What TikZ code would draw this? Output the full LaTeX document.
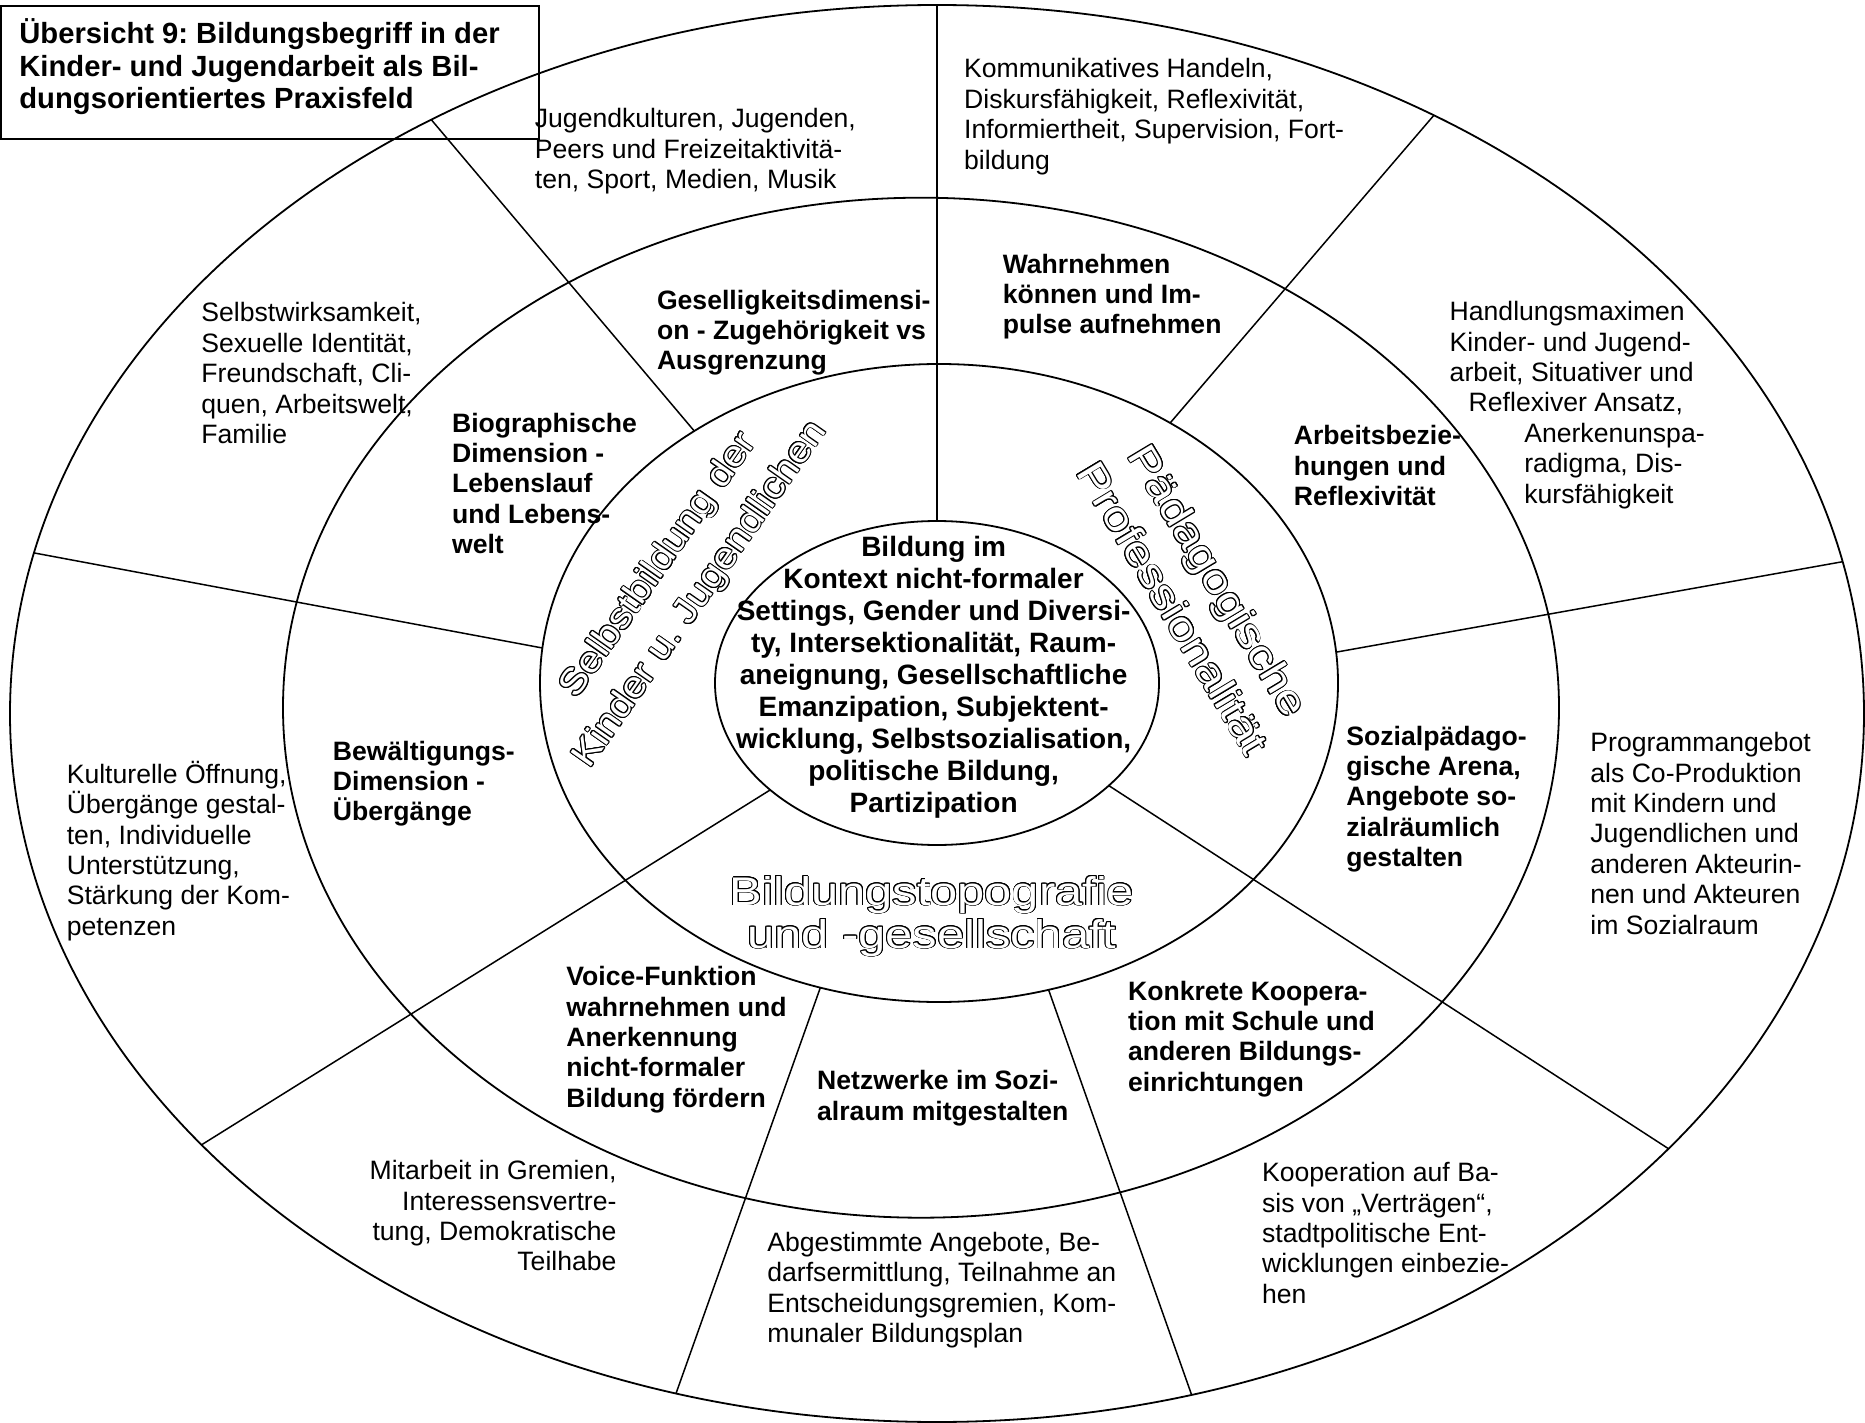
\documentclass[tikz,border=0pt]{standalone}
\usepackage{fontspec}
\setmainfont{Liberation Sans}
\newfontfamily\artwide[FakeStretch=1.22]{Liberation Sans}
\newfontfamily\artnarrow[FakeStretch=1.13]{Liberation Sans}
\usetikzlibrary{calc}

% hollow lettering: black halo copies under a white copy
\newcommand\halocopy[3]{\rlap{\hspace*{#1}\raisebox{#2}{#3}}}
\newcommand\hollowtext[1]{{\color{black}%
  \halocopy{0.48pt}{0pt}{#1}\halocopy{0.44pt}{0.18pt}{#1}%
  \halocopy{0.34pt}{0.34pt}{#1}\halocopy{0.18pt}{0.44pt}{#1}%
  \halocopy{0pt}{0.48pt}{#1}\halocopy{-0.18pt}{0.44pt}{#1}%
  \halocopy{-0.34pt}{0.34pt}{#1}\halocopy{-0.44pt}{0.18pt}{#1}%
  \halocopy{-0.48pt}{0pt}{#1}\halocopy{-0.44pt}{-0.18pt}{#1}%
  \halocopy{-0.34pt}{-0.34pt}{#1}\halocopy{-0.18pt}{-0.44pt}{#1}%
  \halocopy{0pt}{-0.48pt}{#1}\halocopy{0.18pt}{-0.44pt}{#1}%
  \halocopy{0.34pt}{-0.34pt}{#1}\halocopy{0.44pt}{-0.18pt}{#1}}%
  \textcolor{white}{#1}}

% text blocks are placed by the baseline of their last line
\tikzset{
  ring/.style={draw=black, line width=0.9pt},
  spoke/.style={draw=black, line width=0.75pt},
  plain/.style={anchor=base west, inner sep=0pt, align=left,
    font=\fontsize{13.3}{15.2}\selectfont},
  heavy/.style={anchor=base west, inner sep=0pt, align=left,
    font=\fontsize{13.3}{15.2}\selectfont\bfseries},
  hub/.style={anchor=base, inner sep=0pt, align=center,
    font=\fontsize{14}{16}\selectfont\bfseries},
  headline/.style={anchor=base west, inner sep=0pt, align=left,
    font=\fontsize{14.6}{16.3}\selectfont\bfseries},
  art/.style={inner sep=0pt, align=center}
}

\begin{document}
\frenchspacing
\begin{tikzpicture}[x=0.5pt,y=-0.5pt]
\useasboundingbox (0,0) rectangle (1865,1423);
\fill[white] (0,0) rectangle (1865,1423);

% centres of the four rings
\coordinate (O) at (937,713.5);
\coordinate (M) at (921,707.7);
\coordinate (I) at (939,683);
\coordinate (C) at (937,683);

\draw[ring] (O) ellipse [x radius=927, y radius=708.5];
\draw[ring] (M) ellipse [x radius=638, y radius=510];
\draw[ring] (I) ellipse [x radius=399, y radius=319];
\draw[ring] (C) ellipse [x radius=222, y radius=162];

% spokes dividing the rings
\coordinate (a1) at ($(C)+(-90:222 and 162)$);
\coordinate (a2) at ($(O)+(-90:927 and 708.5)$);
\coordinate (b1) at ($(I)+(-127.83:399 and 319)$);
\coordinate (b2) at ($(O)+(-123.06:927 and 708.5)$);
\coordinate (c1) at ($(I)+(-54.6:399 and 319)$);
\coordinate (c2) at ($(O)+(-57.59:927 and 708.5)$);
\coordinate (d1) at ($(I)+(-173.7:399 and 319)$);
\coordinate (d2) at ($(O)+(-166.9:927 and 708.5)$);
\coordinate (e1) at ($(I)+(-5.55:399 and 319)$);
\coordinate (e2) at ($(O)+(-12.37:927 and 708.5)$);
\coordinate (f1) at ($(C)+(138.7:222 and 162)$);
\coordinate (f2) at ($(O)+(142.5:927 and 708.5)$);
\coordinate (g1) at ($(C)+(39.3:222 and 162)$);
\coordinate (g2) at ($(O)+(37.9:927 and 708.5)$);
\coordinate (h1) at ($(I)+(107.3:399 and 319)$);
\coordinate (h2) at ($(O)+(106.35:927 and 708.5)$);
\coordinate (i1) at ($(I)+(74.06:399 and 319)$);
\coordinate (i2) at ($(O)+(74.06:927 and 708.5)$);
\foreach \s in {a,b,c,d,e,f,g,h,i} \draw[spoke] (\s1) -- (\s2);

% title
\draw[line width=1pt] (1,6) rectangle (539,139);
\node[headline] (title) at (19,109) {Übersicht 9: Bildungsbegriff in der\\Kinder- und Jugendarbeit als Bil-\\dungsorientiertes Praxisfeld};

% outer ring
\node[plain] (jugend) at (534.5,188.8) {Jugendkulturen, Jugenden,\\Peers und Freizeitaktivitä-\\ten, Sport, Medien, Musik};
\node[plain] (kommunikation) at (963.8,169.2) {Kommunikatives Handeln,\\Diskursfähigkeit, Reflexivität,\\Informiertheit, Supervision, Fort-\\bildung};
\node[plain] (selbstwirk) at (201,443.6) {Selbstwirksamkeit,\\Sexuelle Identität,\\Freundschaft, Cli-\\quen, Arbeitswelt,\\Familie};
\node[plain] (handlung) at (1449.3,503.1) {Handlungsmaximen\\Kinder- und Jugend-\\arbeit, Situativer und\\\hspace*{9.5pt}Reflexiver Ansatz,\\\hspace*{37.3pt}Anerkenunspa-\\\hspace*{37.3pt}radigma, Dis-\\\hspace*{37.3pt}kursfähigkeit};
\node[plain] (kultur) at (66.4,935.3) {Kulturelle Öffnung,\\Übergänge gestal-\\ten, Individuelle\\Unterstützung,\\Stärkung der Kom-\\petenzen};
\node[plain] (programm) at (1590,934.1) {Programmangebot\\als Co-Produktion\\mit Kindern und\\Jugendlichen und\\anderen Akteurin-\\nen und Akteuren\\im Sozialraum};
\node[plain, anchor=base east, align=right] (gremien) at (616.9,1270.8) {Mitarbeit in Gremien,\\Interessensvertre-\\tung, Demokratische\\Teilhabe};
\node[plain] (abgestimmt) at (767,1342.6) {Abgestimmte Angebote, Be-\\darfsermittlung, Teilnahme an\\Entscheidungsgremien, Kom-\\munaler Bildungsplan};
\node[plain] (vertrag) at (1261.7,1303.3) {Kooperation auf Ba-\\sis von „Verträgen“,\\stadtpolitische Ent-\\wicklungen einbezie-\\hen};

% middle ring
\node[heavy] (gesellig) at (656.6,369.8) {Geselligkeitsdimensi-\\on - Zugehörigkeit vs\\Ausgrenzung};
\node[heavy] (wahrnehmen) at (1002.4,333.8) {Wahrnehmen\\können und Im-\\pulse aufnehmen};
\node[heavy] (biographie) at (451.7,553.6) {Biographische\\Dimension -\\Lebenslauf\\und Lebens-\\welt};
\node[heavy] (arbeit) at (1293.5,505.4) {Arbeitsbezie-\\hungen und\\Reflexivität};
\node[heavy] (bewaeltigung) at (332.5,820.8) {Bewältigungs-\\Dimension -\\Übergänge};
\node[heavy] (arena) at (1346,866.6) {Sozialpädago-\\gische Arena,\\Angebote so-\\zialräumlich\\gestalten};
\node[heavy] (voice) at (566,1107.3) {Voice-Funktion\\wahrnehmen und\\Anerkennung\\nicht-formaler\\Bildung fördern};
\node[heavy] (netzwerk) at (816.8,1120.2) {Netzwerke im Sozi-\\alraum mitgestalten};
\node[heavy] (schule) at (1127.7,1091.2) {Konkrete Koopera-\\tion mit Schule und\\anderen Bildungs-\\einrichtungen};

% inner ring: hollow headings
\node[art, rotate=55, font=\artnarrow\fontsize{18}{25.4}\selectfont] (selbst) at (680,580) {\hollowtext{Selbstbildung der}\\\hollowtext{Kinder u. Jugendlichen}};
\node[art, rotate=-59, font=\artwide\fontsize{20}{26.5}\selectfont] (profi) at (1196,594) {\hollowtext{Pädagogische}\\\hollowtext{Professionalität}};
\node[art, anchor=base, font=\artwide\fontsize{20}{21.5}\selectfont] (topo) at (932,948) {\hollowtext{Bildungstopografie}\\\hollowtext{und -gesellschaft}};

% centre
\node[hub] (kern) at (933.6,812.7) {Bildung im\\Kontext nicht-formaler\\Settings, Gender und Diversi-\\ty, Intersektionalität, Raum-\\aneignung, Gesellschaftliche\\Emanzipation, Subjektent-\\wicklung, Selbstsozialisation,\\politische Bildung,\\Partizipation};
\end{tikzpicture}
\end{document}
